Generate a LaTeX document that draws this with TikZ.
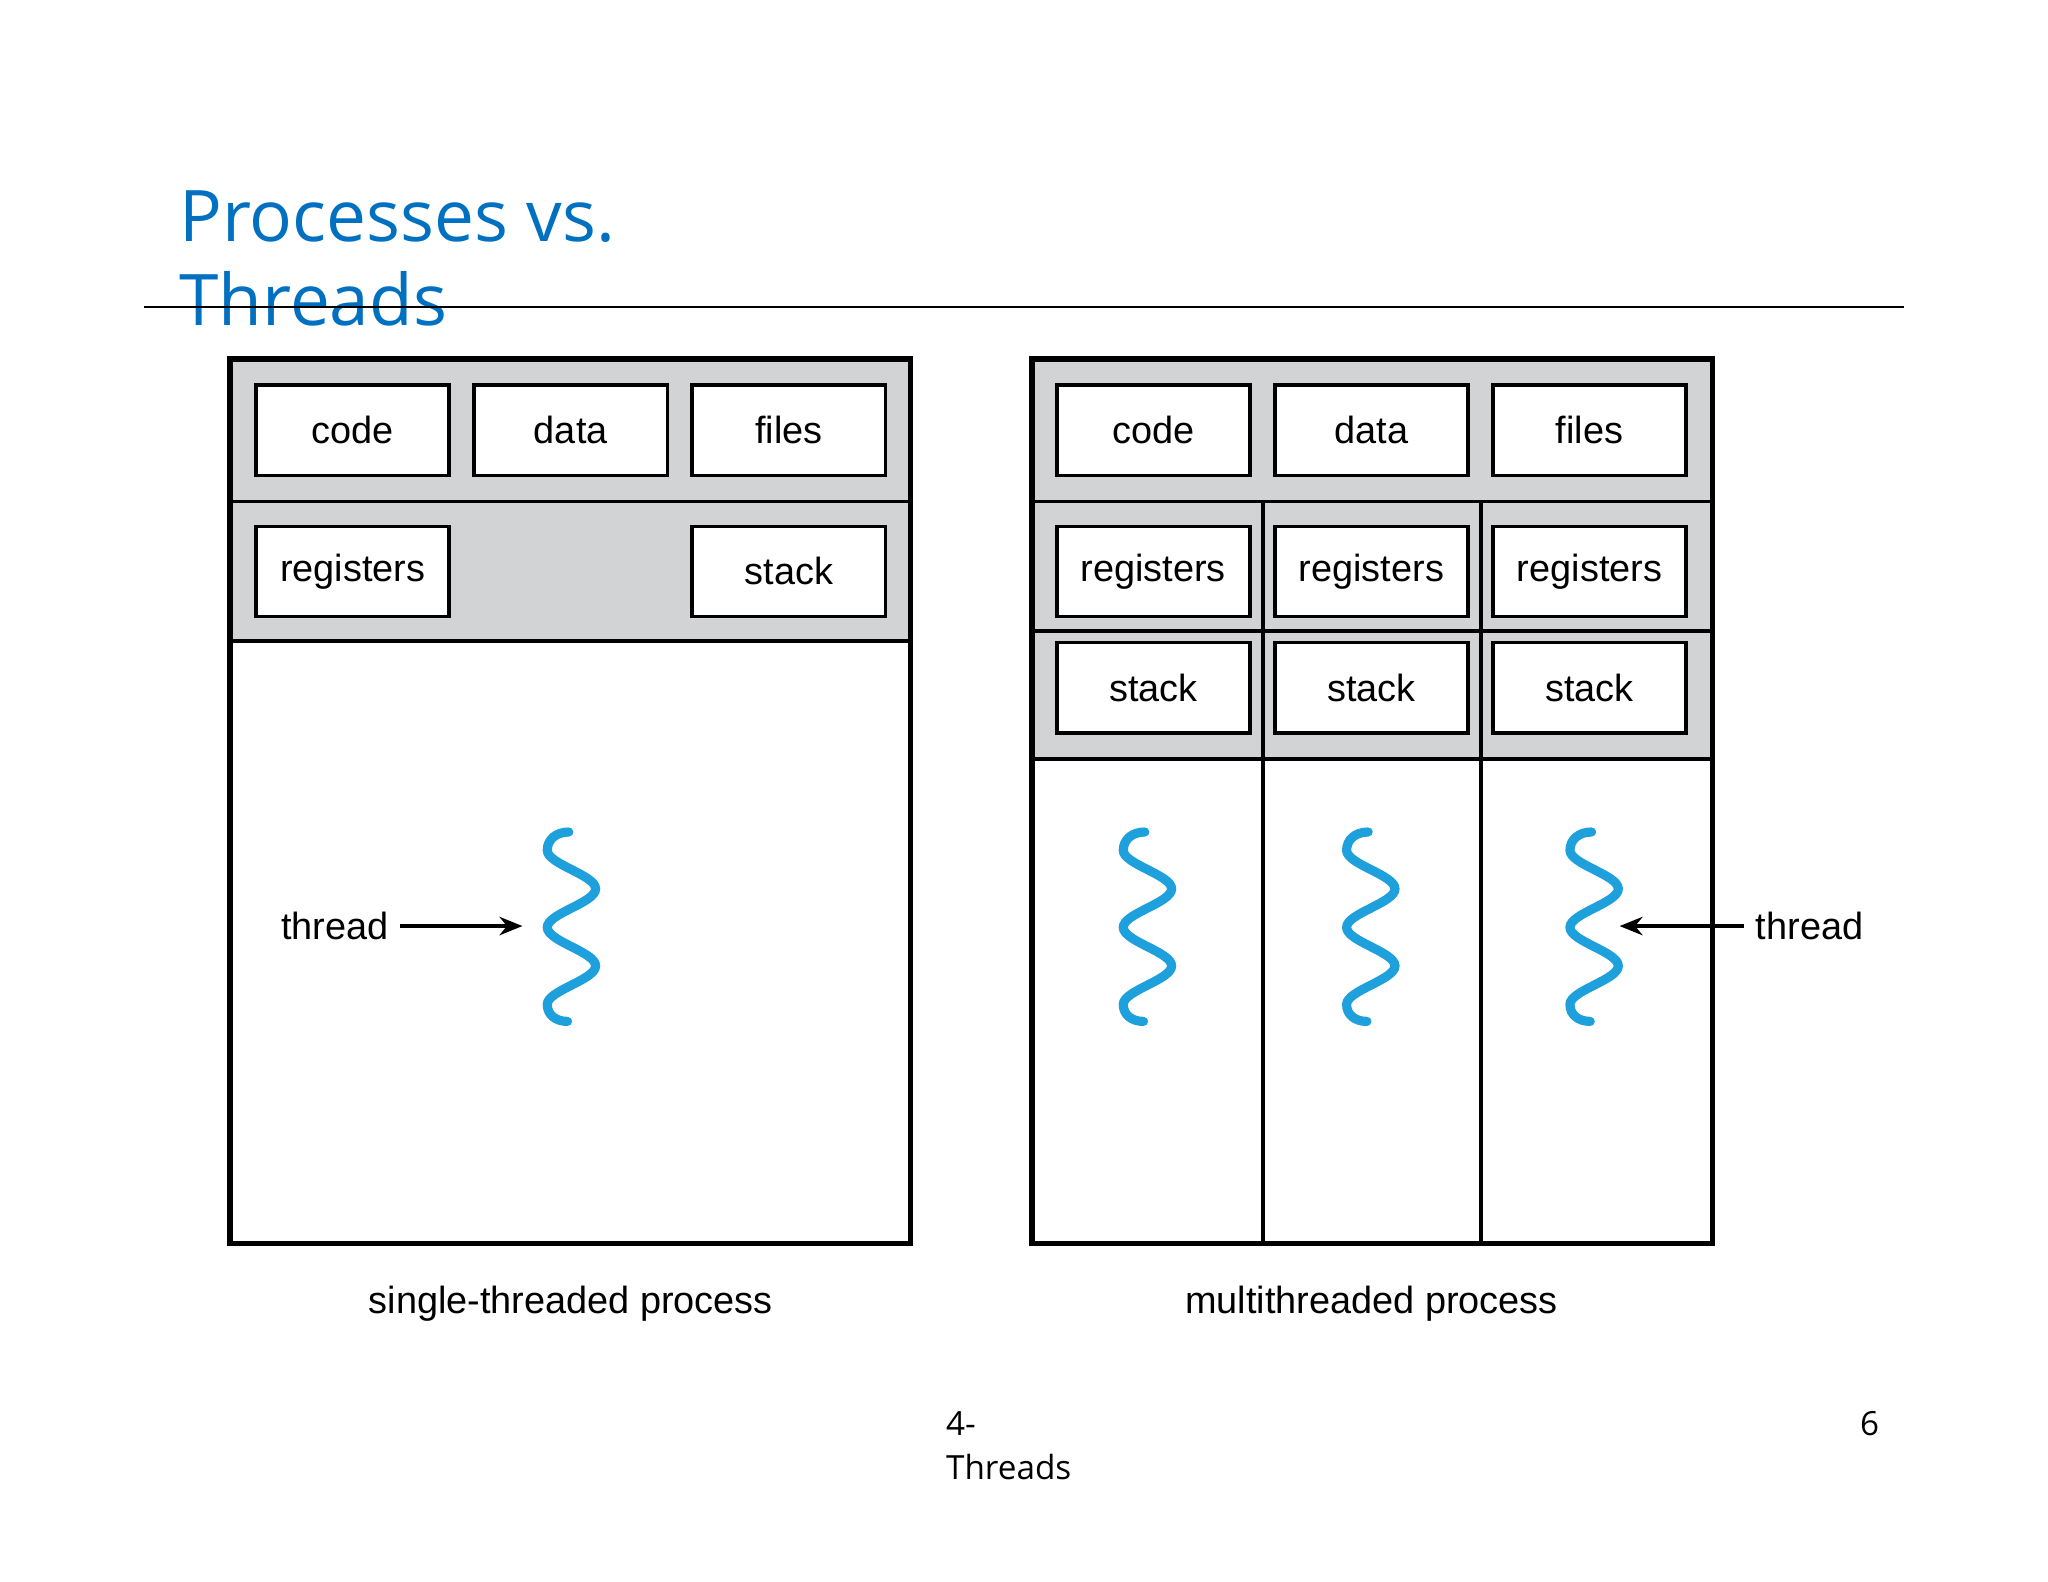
\documentclass[tikz,border=0pt]{standalone}
\usepackage{fontspec}
\setmainfont{Liberation Sans}
\newfontfamily\osans{Open Sans}
\usetikzlibrary{arrows.meta}
\definecolor{titleblue}{RGB}{0,112,192}
\definecolor{band}{RGB}{209,211,212}
\definecolor{wave}{RGB}{30,160,220}
\begin{document}
\begin{tikzpicture}[x=0.02cm,y=-0.02cm,
  box/.style={draw=black,line width=1.6pt,fill=white,minimum width=2.96cm,minimum height=1.38cm,inner sep=0pt,font=\fontsize{16.5}{18}\selectfont},
  lbl/.style={font=\fontsize{16.5}{18}\selectfont,inner sep=0pt},
  frame/.style={draw=black,line width=1.6pt},
  thr/.style={wave,line width=4pt,line cap=round},
  arr/.style={-{Stealth[length=10pt,width=8pt]},line width=1.6pt}]
\useasboundingbox (0,0) rectangle (1568,1211);
% title
\node[anchor=base west,inner sep=0pt,text=titleblue,font=\osans\fontsize{31}{36}\selectfont,align=left] (title) at (137,185) {Processes vs.};
\node[anchor=base west,inner sep=0pt,text=titleblue,font=\osans\fontsize{31}{36}\selectfont] (title2) at (137,249) {Threads};
\draw[line width=1pt] (110,235) -- (1458,235);
% left process
\fill[band] (176,275) rectangle (697,491);
\draw[frame] (176,384) -- (697,384);
\draw[frame] (176,491) -- (697,491);
\draw[frame,line width=2.4pt] (176,275) rectangle (697,952);
\node[box] (c1) at (270,329.5) {code};
\node[box] (d1) at (437,329.5) {data};
\node[box] (f1) at (604,329.5) {files};
\node[box] (r1) at (270,437.5) {registers};
\node[box] (s1) at (604,437.5) {stack};
\foreach \cx in {437.5,878.5,1049.5,1220.5}{
  \begin{scope}[shift={(\cx,637)}]
  \draw[thr] (-2,0) .. controls (-12,0) and (-18.5,6) .. (-18.5,14)
    .. controls (-18.5,24.7) and (18.5,32.8) .. (18.5,43.5)
    .. controls (18.5,54.2) and (-18.5,62.3) .. (-18.5,73)
    .. controls (-18.5,83.7) and (18.5,91.8) .. (18.5,102.5)
    .. controls (18.5,113.2) and (-18.5,121.3) .. (-18.5,132)
    .. controls (-18.5,140) and (-12,145) .. (-3,145);
  \end{scope}}
\coordinate (w1) at (400,709);
\node[lbl,anchor=east] (t1) at (298,709) {thread};
\draw[arr] (t1.east)++(8,0) -- (w1);
\node[lbl] (cap1) at (437,998) {single-threaded process};
% right process
\fill[band] (790,275) rectangle (1311,581);
\foreach \yy in {384,483,581} \draw[frame] (790,\yy) -- (1311,\yy);
\draw[frame] (967,384) -- (967,952);
\draw[frame] (1134,384) -- (1134,952);
\draw[frame,line width=2.4pt] (790,275) rectangle (1311,952);
\node[box] (c2) at (883,329.5) {code};
\node[box] (d2) at (1050,329.5) {data};
\node[box] (f2) at (1217,329.5) {files};
\node[box] (r2a) at (883,437.5) {registers};
\node[box] (r2b) at (1050,437.5) {registers};
\node[box] (r2c) at (1217,437.5) {registers};
\node[box] (s2a) at (883,526.5) {stack};
\node[box] (s2b) at (1050,526.5) {stack};
\node[box] (s2c) at (1217,526.5) {stack};
\coordinate (w2) at (1240,709);
\node[lbl,anchor=west] (t2) at (1344,709) {thread};
\draw[arr] (t2.west)++(-9,0) -- (w2);
\node[lbl] (cap2) at (1050,998) {multithreaded process};
% footer
\node[anchor=base west,inner sep=0pt,font=\osans\fontsize{14.5}{17}\selectfont] (f4) at (724,1099) {4-};
\node[anchor=base west,inner sep=0pt,font=\osans\fontsize{14.5}{17}\selectfont] (f5) at (724,1133) {Threads};
\node[anchor=base east,inner sep=0pt,font=\osans\fontsize{14.5}{17}\selectfont] (pg) at (1439,1099) {6};
\end{tikzpicture}
\end{document}
